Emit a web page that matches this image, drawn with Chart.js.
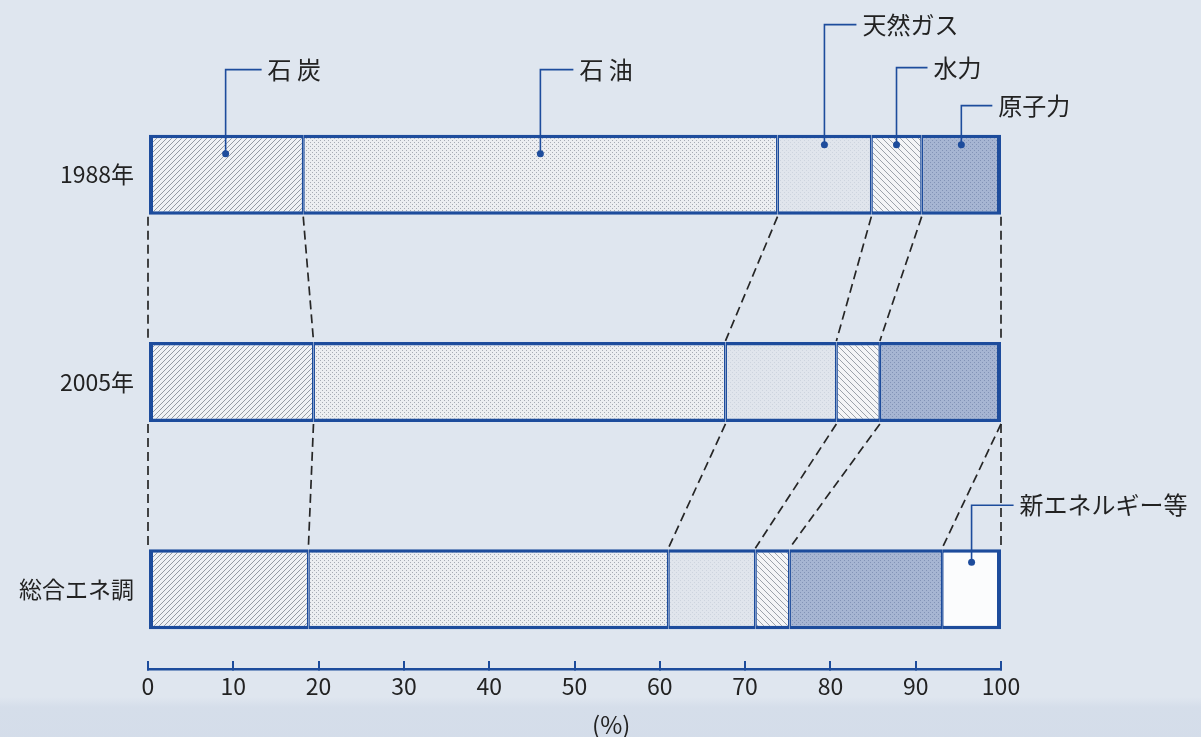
<!DOCTYPE html>
<html lang="ja">
<head>
<meta charset="utf-8">
<title>一次エネルギー供給の構成</title>
<script src="https://cdn.jsdelivr.net/npm/chart.js@4/dist/chart.umd.min.js"></script>
<style>
  html, body { margin: 0; padding: 0; background: #dfe6ef; }
  #wrap { position: relative; width: 1201px; height: 737px; }
</style>
</head>
<body>
<div id="wrap"><canvas id="c"></canvas></div>
<script>
// ---- data (percent shares) ----
const categories = ['1988年', '2005年', '総合エネ調'];
const seriesNames = ['石炭', '石油', '天然ガス', '水力', '原子力', '新エネルギー等'];
const coal      = [18.2, 19.4, 18.8];
const oil       = [55.6, 48.3, 42.2];
const gas       = [11.0, 13.0, 10.2];
const hydro     = [5.9, 5.1, 4.0];
const nuclear   = [9.3, 14.2, 17.9];
const newEnergy = [null, null, 6.9];
const xTickValues = [0, 10, 20, 30, 40, 50, 60, 70, 80, 90, 100];
const unitLabel = '(%)';

// ---- callout labels: which segment, text, height above the bar, leader arm length ----
const callouts = [
  { series: 0, row: 0, text: '石 炭',          rise: 65,  dotDy: 19, arm: 36 },
  { series: 1, row: 0, text: '石 油',          rise: 65,  dotDy: 19, arm: 33 },
  { series: 2, row: 0, text: '天然ガス',       rise: 110, dotDy: 10, arm: 32 },
  { series: 3, row: 0, text: '水力',           rise: 67,  dotDy: 10, arm: 31 },
  { series: 4, row: 0, text: '原子力',         rise: 29,  dotDy: 10, arm: 31 },
  { series: 5, row: 2, text: '新エネルギー等', rise: 44,  dotDy: 13, arm: 42 }
];

const BLUE = '#1d4c9c';
const INK = '#222222';
const FONT = '"Noto Sans CJK JP", "Noto Sans", sans-serif';

const seriesValues = [coal, oil, gas, hydro, nuclear, newEnergy];

const canvas = document.getElementById('c');
const ctx = canvas.getContext('2d');

// ---- fill patterns ----
function tile(size, bg, draw) {
  const t = document.createElement('canvas');
  t.width = t.height = size;
  const g = t.getContext('2d');
  g.fillStyle = bg;
  g.fillRect(0, 0, size, size);
  draw(g, size);
  return ctx.createPattern(t, 'repeat');
}
function hatch(size, bg, fg, width, forward) {
  return tile(size, bg, (g, s) => {
    g.strokeStyle = fg;
    g.lineWidth = width;
    g.beginPath();
    if (forward) {
      g.moveTo(0, s); g.lineTo(s, 0);
      g.moveTo(-1, 1); g.lineTo(1, -1);
      g.moveTo(s - 1, s + 1); g.lineTo(s + 1, s - 1);
    } else {
      g.moveTo(0, 0); g.lineTo(s, s);
      g.moveTo(-1, s - 1); g.lineTo(1, s + 1);
      g.moveTo(s - 1, -1); g.lineTo(s + 1, 1);
    }
    g.stroke();
  });
}
function stipple(bg, fg) {
  return tile(4, bg, (g) => {
    g.fillStyle = fg;
    g.fillRect(0, 0, 1, 1);
    g.fillRect(2, 2, 1, 1);
  });
}
const fills = [
  hatch(5, '#f0f2f5', '#959ba4', 1, true),   // 石炭
  stipple('#eceef1', '#a6abb4'),              // 石油
  stipple('#e0e5ec', '#cdd4de'),              // 天然ガス
  hatch(6, '#f4f5f7', '#9ca2ab', 1, false),  // 水力
  stipple('#a6b5d2', '#8293b6'),              // 原子力
  '#fbfcfd'                                   // 新エネルギー等
];

// outer edge of each bar drawn heavier than the inner separators
function lastSeriesInRow(row) {
  let last = 0;
  seriesValues.forEach((vals, i) => { if (vals[row] != null) last = i; });
  return last;
}
function borderFor(c) {
  const row = c.dataIndex, ds = c.datasetIndex;
  return {
    top: 3.5, bottom: 3.5,
    left: ds === 0 ? 4 : 1.5,
    right: ds === lastSeriesInRow(row) ? 4 : 1.5
  };
}

const datasets = seriesNames.map((name, i) => ({
  label: name,
  data: seriesValues[i].map((v, row) => ({ x: v, y: row })),
  backgroundColor: fills[i],
  borderColor: BLUE,
  borderWidth: borderFor,
  borderSkipped: false,
  inflateAmount: 0,
  barThickness: 80
}));

function cumulative(row, upto) {
  let s = 0;
  for (let k = 0; k <= upto; k++) s += seriesValues[k][row] || 0;
  return s;
}

// page background with the slightly darker strip along the bottom edge
const pagePlugin = {
  id: 'page',
  beforeDraw(chart) {
    const c = chart.ctx;
    c.save();
    c.fillStyle = '#dfe6ef';
    c.fillRect(0, 0, chart.width, chart.height);
    const band = c.createLinearGradient(0, chart.height - 40, 0, chart.height);
    band.addColorStop(0, 'rgba(205,215,230,0)');
    band.addColorStop(0.25, 'rgba(205,215,230,0.55)');
    band.addColorStop(1, 'rgba(205,215,230,0.6)');
    c.fillStyle = band;
    c.fillRect(0, chart.height - 40, chart.width, 40);
    c.restore();
  }
};

// dashed guide lines joining matching boundaries of consecutive bars
const connectorPlugin = {
  id: 'connectors',
  beforeDatasetsDraw(chart) {
    const xs = chart.scales.x;
    const els = chart.getDatasetMeta(0).data;
    const c = chart.ctx;
    c.save();
    c.strokeStyle = '#262626';
    c.lineWidth = 1.7;
    c.setLineDash([9, 5]);
    for (let r = 0; r + 1 < categories.length; r++) {
      const a = els[r].getProps(['y', 'height'], true);
      const b = els[r + 1].getProps(['y', 'height'], true);
      const y0 = a.y + a.height / 2 + 2;
      const y1 = b.y - b.height / 2 - 1;
      const seen = new Set();
      for (let k = -1; k < seriesValues.length; k++) {
        const u = cumulative(r, k), l = cumulative(r + 1, k);
        const key = u.toFixed(2) + '|' + l.toFixed(2);
        if (seen.has(key)) continue;
        seen.add(key);
        c.beginPath();
        c.moveTo(xs.getPixelForValue(u), y0);
        c.lineTo(xs.getPixelForValue(l), y1);
        c.stroke();
      }
    }
    c.restore();
  }
};

// leader lines, dots and series names
const calloutPlugin = {
  id: 'callouts',
  afterDatasetsDraw(chart) {
    const xs = chart.scales.x;
    const c = chart.ctx;
    c.save();
    c.font = '24px ' + FONT;
    c.textBaseline = 'middle';
    c.textAlign = 'left';
    callouts.forEach(co => {
      const el = chart.getDatasetMeta(co.series).data[co.row];
      const p = el.getProps(['y', 'height'], true);
      const top = p.y - p.height / 2;
      const start = cumulative(co.row, co.series - 1);
      const val = seriesValues[co.series][co.row];
      const dx = xs.getPixelForValue(start + val / 2);
      const dy = top + co.dotDy;
      const ly = top - co.rise;
      c.strokeStyle = BLUE;
      c.lineWidth = 1.6;
      c.beginPath();
      c.moveTo(dx, dy);
      c.lineTo(dx, ly);
      c.lineTo(dx + co.arm, ly);
      c.stroke();
      c.fillStyle = BLUE;
      c.beginPath();
      c.arc(dx, dy, 3.5, 0, Math.PI * 2);
      c.fill();
      c.fillStyle = INK;
      c.fillText(co.text, dx + co.arm + 6, ly);
    });
    // unit caption under the tick labels
    c.font = '24px ' + FONT;
    c.textAlign = 'center';
    c.fillText(unitLabel, xs.getPixelForValue(54.3), xs.bottom - 12);
    c.restore();
  }
};

Chart.defaults.font.family = FONT;
Chart.defaults.color = INK;

new Chart(canvas, {
  type: 'bar',
  data: { datasets },
  options: {
    indexAxis: 'y',
    responsive: true,
    maintainAspectRatio: false,
    animation: false,
    layout: { padding: { left: 0, right: 200, top: 71, bottom: 0 } },
    plugins: {
      legend: { display: false },
      tooltip: { enabled: false }
    },
    scales: {
      x: {
        type: 'linear',
        min: 0,
        max: 100,
        stacked: true,
        afterBuildTicks: s => { s.ticks = xTickValues.map(v => ({ value: v })); },
        afterFit: s => { s.height = 68; },
        border: { display: true, color: BLUE, width: 2.5 },
        grid: {
          display: true,
          drawOnChartArea: false,
          drawTicks: true,
          tickLength: -8,
          color: BLUE,
          lineWidth: 2
        },
        ticks: { padding: 11, color: INK, font: { size: 23 }, maxRotation: 0 }
      },
      y: {
        type: 'linear',
        offset: false,
        min: -0.5,
        max: 2.385,
        reverse: true,
        stacked: true,
        afterBuildTicks: s => { s.ticks = categories.map((_, i) => ({ value: i })); },
        afterFit: s => { s.width = 148; },
        grid: { display: false, drawTicks: false },
        border: { display: false },
        ticks: {
          callback: v => categories[v],
          padding: 14,
          color: INK,
          font: { size: 23 }
        }
      }
    }
  },
  plugins: [pagePlugin, connectorPlugin, calloutPlugin]
});
</script>
</body>
</html>
